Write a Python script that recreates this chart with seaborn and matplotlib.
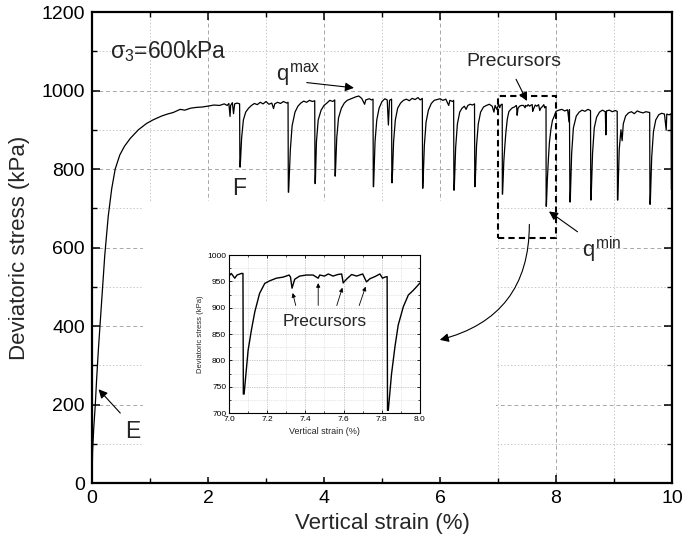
import numpy as np
import pandas as pd
import matplotlib
matplotlib.use("Agg")
import matplotlib.pyplot as plt
import seaborn as sns
from matplotlib.patches import Rectangle, FancyArrowPatch

# ---------------- data ----------------
strain = [
    0, 0.005, 0.01, 0.03, 0.057, 0.08, 0.11, 0.16, 0.22, 0.28, 0.34, 0.4, 0.48, 0.56, 0.66, 0.8, 0.94,
    1.05, 1.2, 1.3, 1.4, 1.52, 1.6, 1.7, 1.8, 1.9, 2.03, 2.1, 2.2, 2.28, 2.33, 2.36, 2.38, 2.39, 2.42,
    2.44, 2.46, 2.5, 2.545, 2.55, 2.555, 2.58, 2.61, 2.65, 2.7, 2.75, 2.8, 2.85, 2.9, 2.95, 3.0, 3.05,
    3.1, 3.13, 3.15, 3.2, 3.25, 3.3, 3.36, 3.38, 3.385, 3.39, 3.42, 3.45, 3.5, 3.55, 3.6, 3.65, 3.7,
    3.75, 3.8, 3.84, 3.845, 3.85, 3.87, 3.9, 3.95, 4.0, 4.05, 4.1, 4.15, 4.185, 4.19, 4.195, 4.22, 4.25,
    4.3, 4.35, 4.4, 4.45, 4.5, 4.55, 4.6, 4.65, 4.7, 4.72, 4.78, 4.82, 4.845, 4.85, 4.855, 4.88, 4.91,
    4.95, 5.0, 5.05, 5.09, 5.11, 5.13, 5.165, 5.17, 5.175, 5.2, 5.23, 5.27, 5.32, 5.37, 5.42, 5.47,
    5.52, 5.57, 5.62, 5.66, 5.695, 5.7, 5.705, 5.73, 5.76, 5.8, 5.85, 5.9, 5.95, 6.0, 6.05, 6.1, 6.15,
    6.17, 6.22, 6.235, 6.24, 6.245, 6.27, 6.3, 6.34, 6.38, 6.42, 6.45, 6.48, 6.52, 6.56, 6.595, 6.6,
    6.605, 6.63, 6.66, 6.7, 6.75, 6.8, 6.85, 6.9, 6.93, 6.95, 6.98,
    7.0, 7.012, 7.03, 7.042, 7.065, 7.073, 7.075, 7.079, 7.1, 7.117, 7.135, 7.16, 7.187, 7.213, 7.248,
    7.283, 7.315, 7.322, 7.33, 7.344, 7.37, 7.405, 7.44, 7.467, 7.475, 7.5, 7.52, 7.545, 7.57, 7.59,
    7.598, 7.615, 7.642, 7.668, 7.7, 7.72, 7.738, 7.764, 7.79, 7.804, 7.816, 7.828, 7.83, 7.834, 7.851,
    7.869, 7.886, 7.913, 7.939, 7.965, 7.983, 8.0,
    8.05, 8.1, 8.15, 8.2, 8.225, 8.232, 8.24, 8.245, 8.27, 8.3, 8.35, 8.4, 8.45, 8.5, 8.55, 8.595, 8.6,
    8.605, 8.63, 8.66, 8.7, 8.75, 8.8, 8.85, 8.86, 8.87, 8.92, 8.97, 9.02, 9.055, 9.06, 9.065, 9.09,
    9.12, 9.14, 9.16, 9.2, 9.25, 9.3, 9.35, 9.4, 9.45, 9.5, 9.55, 9.615, 9.62, 9.625, 9.65, 9.68, 9.72,
    9.77, 9.82, 9.87, 9.9, 9.91, 9.95, 9.985, 9.99, 9.995, 10.0,
]
stress = [
    0, 40, 80, 140, 200, 265, 340, 450, 580, 680, 750, 800, 836, 858, 878, 900, 916,
    925, 935, 940, 944, 952, 950, 955, 957, 958, 961, 963, 962, 966, 962, 967, 934, 962, 969,
    941, 966, 968, 966, 805, 805, 880, 925, 945, 955, 962, 967, 964, 970, 966, 972, 965,
    968, 954, 966, 970, 967, 972, 968, 970, 741, 741, 850, 910, 945, 960, 968, 973, 970,
    975, 972, 974, 763, 763, 870, 925, 950, 962, 968, 975, 972, 976, 782, 782, 880, 930,
    955, 968, 975, 978, 981, 984, 986, 980, 965, 976, 979, 976, 978, 755, 755, 870, 925,
    955, 972, 979, 976, 912, 975, 978, 765, 765, 870, 925, 955, 968, 975, 978, 974,
    980, 977, 982, 976, 980, 751, 751, 860, 920, 950, 967, 975, 977, 979, 975, 978, 962,
    975, 972, 975, 746, 746, 855, 915, 945, 955, 960, 952, 962, 965, 963, 966, 755,
    755, 860, 915, 945, 958, 962, 965, 960, 945, 962, 952,
    960, 965, 956, 962, 965, 965, 736, 736, 819, 857, 892, 927, 946, 951, 956,
    958, 962, 958, 937, 954, 960, 962, 962, 956, 962, 960, 964, 960, 963, 964,
    947, 954, 963, 960, 964, 949, 955, 959, 964, 956, 958, 959, 705, 705, 774,
    826, 867, 902, 924, 933, 940, 947,
    950, 952, 948, 951, 920, 951, 716, 716, 840, 905, 935, 945, 950, 947, 952, 949, 721,
    721, 840, 905, 932, 945, 950, 946, 887, 948, 950, 946, 949, 947, 721, 721, 850,
    900, 872, 915, 935, 943, 946, 941, 948, 945, 943, 946, 944, 710, 710, 830, 895, 925,
    938, 942, 940, 899, 940, 938, 941, 748, 748, 890,
]
x_ticks = [0, 2, 4, 6, 8, 10]
y_ticks = [0, 200, 400, 600, 800, 1000, 1200]
inset_x_ticks = [7.0, 7.2, 7.4, 7.6, 7.8, 8.0]
inset_y_ticks = [700, 750, 800, 850, 900, 950, 1000]
inset_precursors = [7.33, 7.467, 7.598, 7.72]
inset_precursor_vals = [937, 956, 947, 949]

df = pd.DataFrame({"strain": strain, "stress": stress})
df_in = df[(df.strain >= 6.98) & (df.strain <= 8.05)]

# ---------------- style ----------------
sns.set_theme(style="ticks")
plt.rcParams["font.family"] = ["Liberation Sans", "DejaVu Sans"]
plt.rcParams["mathtext.fontset"] = "custom"
plt.rcParams["mathtext.rm"] = "Liberation Sans"
plt.rcParams["mathtext.it"] = "Liberation Sans"
plt.rcParams["mathtext.bf"] = "Liberation Sans:bold"
plt.rcParams["mathtext.sf"] = "Liberation Sans"

fig = plt.figure(figsize=(6.83, 5.49), dpi=100)
ax = fig.add_axes([0.1347, 0.1202, 0.8492, 0.8579])
ax.set_facecolor("white")

sns.lineplot(data=df, x="strain", y="stress", ax=ax, sort=False, estimator=None,
             color="black", lw=0.9, zorder=3)

ax.set_xlim(0, 10)
ax.set_ylim(0, 1200)
ax.set_xticks(x_ticks)
ax.set_yticks(y_ticks)
ax.set_xticks(np.arange(0, 11, 1), minor=True)
ax.set_yticks(np.arange(0, 1201, 100), minor=True)
ax.tick_params(which="both", direction="in", top=True, right=True, colors="black",
               labelsize=14, pad=5)
ax.tick_params(which="major", length=6, width=1.1)
ax.tick_params(which="minor", length=3.5, width=1.0)
for s in ax.spines.values():
    s.set_linewidth(1.6)
    s.set_color("black")
ax.set_axisbelow(True)
ax.grid(which="major", ls=(0, (4, 3)), color="#a8a8a8", lw=0.7)
ax.grid(which="minor", ls=(0, (1.5, 2)), color="#c8c8c8", lw=0.7)
ax.set_xlabel("Vertical strain (%)", fontsize=16, labelpad=4)
ax.set_ylabel("Deviatoric stress (kPa)", fontsize=16, labelpad=8)

# white area of the pasted inset picture hiding the grid
ax.add_patch(Rectangle((0.88, 16), 6.09, 702, facecolor="white", edgecolor="none", zorder=1))

# annotations
ax.text(0.31, 1083, r"$\sigma_3$=600kPa", fontsize=16.5, va="baseline", ha="left", zorder=5)
ax.text(3.17, 1026, r"$q^{max}$", fontsize=16, va="baseline", ha="left", zorder=5)
ax.annotate("", xy=(4.564, 1006), xytext=(3.655, 1021),
            arrowprops=dict(arrowstyle="-|>", color="black", lw=0.8, mutation_scale=13))
ax.text(7.27, 1075, "Precursors", fontsize=14, ha="center", va="center", zorder=5)
ax.annotate("", xy=(7.52, 967), xytext=(7.29, 1035),
            arrowprops=dict(arrowstyle="-|>", color="black", lw=0.8, mutation_scale=13))
ax.add_patch(Rectangle((7.0, 623), 1.0, 363, facecolor="none", edgecolor="black",
                       lw=1.5, ls=(0, (3, 2)), zorder=4))
ax.text(8.44, 575, r"$q^{min}$", fontsize=16, va="baseline", ha="left", zorder=5)
ax.annotate("", xy=(7.84, 696), xytext=(8.41, 636),
            arrowprops=dict(arrowstyle="-|>", color="black", lw=0.8, mutation_scale=13))
ax.add_patch(FancyArrowPatch((7.54, 666), (5.95, 363), connectionstyle="arc3,rad=-0.4",
                             arrowstyle="-|>", mutation_scale=13, color="black", lw=0.8,
                             zorder=5))
ax.text(0.71, 132, "E", fontsize=16.5, ha="center", va="center", zorder=5)
ax.annotate("", xy=(0.08, 244), xytext=(0.52, 173),
            arrowprops=dict(arrowstyle="-|>", color="black", lw=0.8, mutation_scale=13))
ax.text(2.53, 750, "F", fontsize=16.5, ha="center", va="center", zorder=5)

# ---------------- inset ----------------
axin = fig.add_axes([0.3353, 0.2477, 0.2796, 0.2878])
axin.set_facecolor("white")
sns.lineplot(data=df_in, x="strain", y="stress", ax=axin, sort=False, estimator=None,
             color="black", lw=1.0, zorder=3)
axin.set_xlim(7.0, 8.0)
axin.set_ylim(700, 1000)
axin.set_xticks(inset_x_ticks)
axin.set_yticks(inset_y_ticks)
axin.set_xticks(np.arange(7.0, 8.01, 0.1), minor=True)
axin.set_yticks(np.arange(700, 1001, 25), minor=True)
axin.set_xticklabels([f"{v:.1f}" for v in inset_x_ticks])
axin.tick_params(which="both", direction="in", top=True, right=True, labelsize=6, pad=2,
                 colors="black")
axin.tick_params(which="major", length=2.5, width=0.6)
axin.tick_params(which="minor", length=1.5, width=0.5)
for s in axin.spines.values():
    s.set_linewidth(0.8)
    s.set_color("black")
axin.set_axisbelow(True)
axin.grid(which="major", ls=(0, (1, 1.5)), color="#9a9a9a", lw=0.5)
axin.grid(which="minor", ls=(0, (1, 1.5)), color="#cfcfcf", lw=0.5)
axin.set_xlabel("Vertical strain (%)", fontsize=6.5, labelpad=3)
axin.set_ylabel("Deviatoric stress (kPa)", fontsize=5.5, labelpad=2)
axin.text(7.5, 873, "Precursors", fontsize=12.5, ha="center", va="center", zorder=5)
starts = [(7.353, 899), (7.467, 899), (7.56, 899), (7.677, 899)]
for (sx, sy), px, pv in zip(starts, inset_precursors, inset_precursor_vals):
    axin.annotate("", xy=(px, pv - 4), xytext=(sx, sy),
                  arrowprops=dict(arrowstyle="-|>", color="black", lw=0.6, mutation_scale=6))

fig.savefig("out.png", dpi=100)
